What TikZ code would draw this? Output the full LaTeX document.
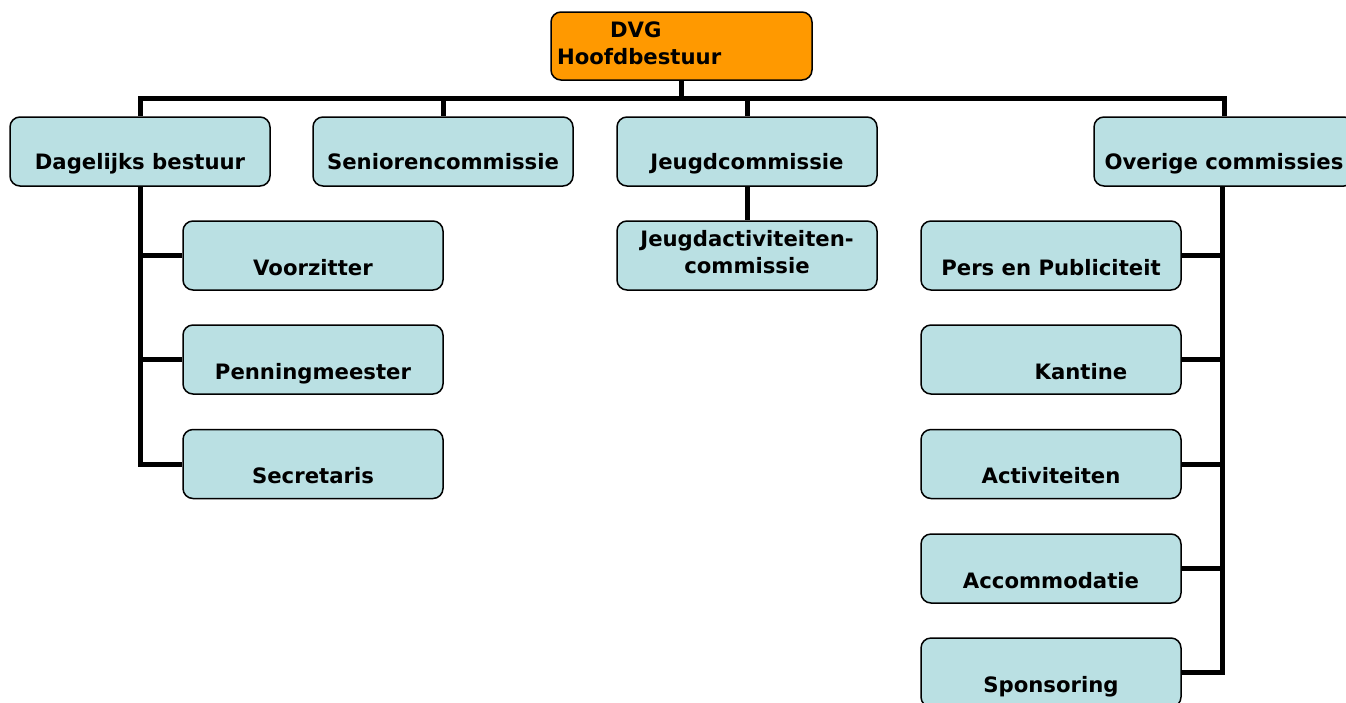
\documentclass[tikz,border=0pt]{standalone}
\usepackage{fontspec}
\setmainfont{DejaVu Sans}
\definecolor{boxblue}{HTML}{BAE0E3}
\definecolor{boxorange}{HTML}{FF9900}
\begin{document}
\begin{tikzpicture}[x=1pt,y=-1pt,
  unit/.style={draw=black, line width=1.5pt, rounded corners=10pt, fill=boxblue,
    minimum width=260pt, minimum height=69pt, inner sep=0pt,
    font=\fontsize{21.2}{27}\selectfont\bfseries, text height=39pt, text depth=0pt},
  toprow/.style={unit, text height=36pt},
  twoline/.style={unit, align=center, text height=, text depth=7pt},
  link/.style={line width=5pt, line join=miter}
]
\useasboundingbox (0,0) rectangle (1346,702);

\node[unit, fill=boxorange, minimum width=261pt, minimum height=68pt, text width=249pt,
  align=left, text height=, text depth=32pt, inner sep=6pt] (dvg) at (681.5,46) {\hspace*{53pt}DVG\\Hoofdbestuur};

\node[toprow] (db) at (140,151.5) {Dagelijks bestuur};
\node[toprow] (sen) at (443,151.5) {Seniorencommissie};
\node[toprow] (jc) at (747,151.5) {Jeugdcommissie};
\node[toprow] (ov) at (1224,151.5) {Overige commissies};

\node[unit] (voor) at (313,255.5) {Voorzitter};
\node[unit] (pen) at (313,359.5) {Penningmeester};
\node[unit] (sec) at (313,464) {Secretaris};

\node[twoline] (jac) at (747,255.5) {Jeugdactiviteiten-\\commissie};

\node[unit] (pers) at (1051,255.5) {Pers en Publiciteit};
\node[unit] (kan) at (1051,359.5) {\hspace*{60pt}Kantine};
\node[unit] (act) at (1051,464) {Activiteiten};
\node[unit] (acc) at (1051,568.5) {Accommodatie};
\node[unit] (spo) at (1051,672.5) {Sponsoring};

\draw[link] (dvg.south) -- ++(0,18) -| (db.north);
\draw[link] (dvg.south) -- ++(0,18) -| (sen.north);
\draw[link] (dvg.south) -- ++(0,18) -| (jc.north);
\draw[link] (dvg.south) -- ++(0,18) -| (ov.north);
\draw[link] (jc.south) -- (jac.north);

\draw[link] (db.south) |- (voor.west);
\draw[link] (db.south) |- (pen.west);
\draw[link] (db.south) |- (sec.west);

\draw[link] ([xshift=-2pt]ov.south) |- (pers.east);
\draw[link] ([xshift=-2pt]ov.south) |- (kan.east);
\draw[link] ([xshift=-2pt]ov.south) |- (act.east);
\draw[link] ([xshift=-2pt]ov.south) |- (acc.east);
\draw[link] ([xshift=-2pt]ov.south) |- (spo.east);
\end{tikzpicture}
\end{document}
